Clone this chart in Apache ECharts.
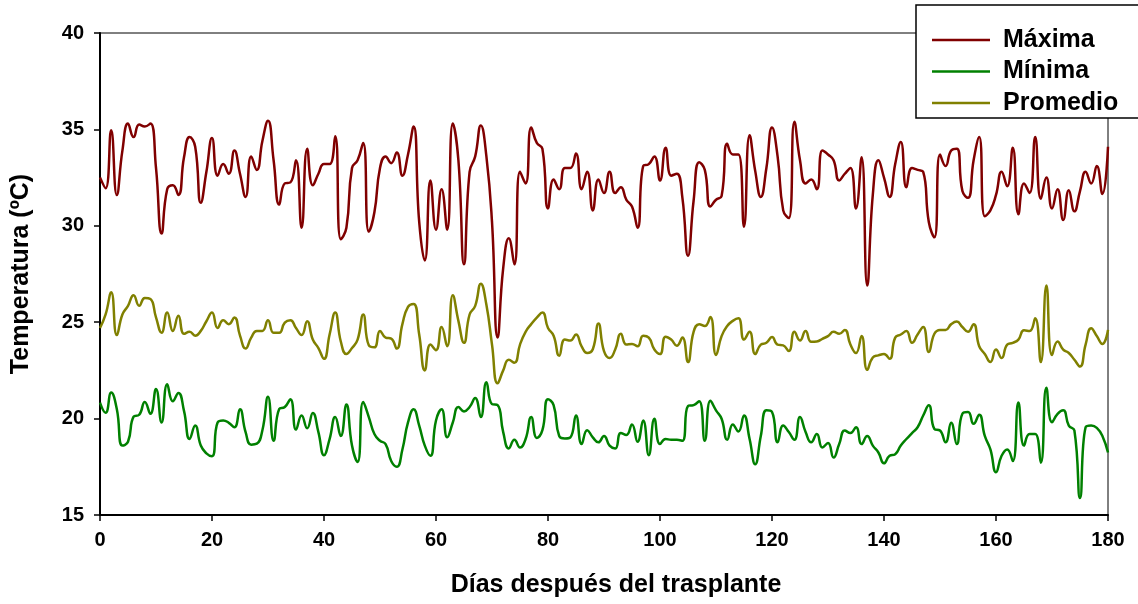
<!DOCTYPE html>
<html>
<head>
<meta charset="utf-8">
<script src="https://cdn.jsdelivr.net/npm/echarts@6/dist/echarts.min.js"></script>
<style>
html,body{margin:0;padding:0;background:#fff;}
#chart{width:1138px;height:604px;}
</style>
</head>
<body>
<div id="chart"></div>
<script>
// Days after transplant (0..180)
const days = Array.from({length: 181}, (_, i) => i);

const maxima = [
32.5,31.95,34.95,31.6,33.9,35.3,34.6,35.25,35.15,35.3,33.0,29.6,31.9,32.1,31.6,33.55,34.6,34.1,31.2,32.8,34.55,32.6,33.2,32.7,33.9,32.7,31.5,33.6,32.9,34.4,
35.45,33.4,31.1,32.2,32.25,33.4,29.9,34.0,32.1,32.7,33.2,33.2,34.65,29.3,29.9,33.0,33.4,34.3,29.7,30.7,33.0,33.6,33.25,33.8,32.6,33.7,35.15,30.2,28.2,32.35,
29.8,31.9,29.8,35.3,33.4,28.0,32.8,33.6,35.2,33.6,30.2,24.2,27.8,29.35,28.0,32.8,32.2,35.1,34.3,34.0,30.9,32.4,31.9,33.0,33.0,33.75,31.9,32.8,30.8,32.4,
31.7,32.8,31.7,32.0,31.35,31.0,29.9,33.1,33.2,33.6,32.35,34.05,32.6,32.7,31.45,28.45,31.3,33.3,32.9,31.0,31.35,31.55,34.25,33.7,33.7,29.95,34.7,32.85,31.5,33.0,
35.1,33.6,30.8,30.4,35.4,33.4,32.2,32.4,31.9,33.9,33.7,33.4,32.35,32.7,33.0,30.9,33.55,26.9,31.6,33.4,32.5,31.5,33.2,34.35,32.0,33.0,32.9,32.8,30.2,29.4,
33.7,33.1,33.9,34.0,31.8,31.45,33.4,34.6,30.5,30.8,31.6,32.8,32.05,34.05,30.6,32.2,31.7,34.6,31.4,32.5,30.9,31.9,30.3,31.85,30.75,31.8,32.8,32.2,33.1,31.65,
34.1
];

const minima = [
20.83,20.3,21.35,20.5,18.6,18.8,20.1,20.2,20.86,20.25,21.53,19.8,21.78,20.9,21.33,20.4,18.94,19.64,18.6,18.2,18.05,19.8,19.9,19.78,19.55,20.48,19.3,18.65,18.7,19.4,
21.13,18.85,20.5,20.6,21.0,19.43,20.16,19.5,20.29,19.3,18.1,18.94,20.08,19.1,20.73,18.6,17.75,20.86,20.08,19.2,18.85,18.68,17.8,17.5,18.4,19.8,20.48,19.64,18.6,18.07,
19.9,20.48,19.03,19.8,20.6,20.37,20.6,21.07,20.08,21.88,20.75,20.7,19.3,18.45,18.9,18.5,18.94,20.08,19.0,19.4,21.0,20.7,19.1,18.97,19.03,20.16,18.68,19.4,19.03,18.77,
19.1,18.6,18.45,19.25,19.15,19.7,18.8,19.9,18.1,19.99,18.68,18.94,18.9,18.9,18.85,20.65,20.7,20.9,18.85,20.92,20.43,19.99,18.9,19.7,19.33,20.16,18.94,17.63,19.1,20.43,
20.34,18.77,19.64,19.3,18.9,20.08,19.3,18.77,19.2,18.5,18.73,17.98,18.68,19.38,19.25,19.55,18.68,19.1,18.6,18.24,17.68,18.07,18.15,18.6,18.94,19.25,19.55,20.16,20.69,19.46,
19.38,18.77,19.78,18.68,20.25,20.34,19.73,20.2,19.1,18.4,17.22,18.07,18.4,17.8,20.83,18.6,19.2,19.2,17.71,21.6,19.81,20.25,20.43,19.64,19.38,15.88,19.55,19.64,19.52,19.1,
18.24
];

const promedio = [
24.7,25.4,26.55,24.33,25.4,25.85,26.4,25.85,26.25,26.2,25.25,24.45,25.5,24.55,25.33,24.4,24.5,24.3,24.55,25.05,25.5,24.7,25.1,24.9,25.25,24.3,23.63,24.2,24.55,24.55,
25.1,24.45,24.45,24.98,25.1,24.7,24.33,25.05,24.1,23.66,23.1,24.36,25.5,24.0,23.35,23.66,24.1,25.4,23.8,23.7,24.55,24.2,24.15,23.63,24.9,25.8,25.95,24.36,22.5,23.84,
23.55,24.75,23.75,26.4,25.07,23.93,25.4,25.85,27.0,25.9,23.84,21.83,22.5,23.05,22.9,23.84,24.5,24.9,25.24,25.5,24.7,24.3,23.26,24.1,24.05,24.36,23.75,23.4,23.6,24.93,
23.5,23.14,23.58,24.4,23.84,23.87,23.75,24.3,24.2,23.58,23.35,24.25,24.1,23.78,24.2,22.93,24.5,24.9,24.8,25.27,23.3,24.28,24.8,25.07,25.2,24.1,24.5,23.35,23.84,23.93,
24.23,23.84,23.8,23.5,24.5,24.05,24.54,23.98,24.0,24.14,24.28,24.5,24.4,24.6,23.84,23.4,24.28,22.53,23.17,23.28,23.35,23.1,24.2,24.36,24.54,23.93,24.36,24.75,23.45,24.4,
24.6,24.6,24.9,25.03,24.75,24.5,24.9,23.75,23.35,22.93,23.58,23.14,23.84,23.93,24.1,24.58,24.54,25.2,22.93,26.9,23.3,24.0,23.58,23.4,23.05,22.7,23.84,24.68,24.28,23.87,
24.6
];

const seriesNames = ['Máxima', 'Mínima', 'Promedio'];
const seriesColors = ['#800000', '#008000', '#808000'];
const seriesData = [maxima, minima, promedio];

const yTicks = [15, 20, 25, 30, 35, 40];
const xTicks = [0, 20, 40, 60, 80, 100, 120, 140, 160, 180];

const FONT = '"Liberation Sans", Arial, sans-serif';

const chart = echarts.init(document.getElementById('chart'), null, {renderer: 'canvas'});

chart.setOption({
  animation: false,
  backgroundColor: '#fff',
  grid: {
    left: 100, right: 30, top: 33, bottom: 89,
    containLabel: false, outerBoundsMode: 'none',
    show: true, borderColor: '#000', borderWidth: 1, backgroundColor: 'transparent'
  },
  legend: {
    orient: 'vertical',
    left: 916, top: 5,
    padding: [21, 22, 1, 16],
    icon: 'rect',
    itemWidth: 58, itemHeight: 2.5, itemGap: 3.5,
    backgroundColor: '#fff',
    borderColor: '#000', borderWidth: 1.5,
    textStyle: {fontFamily: FONT, fontSize: 25, fontWeight: 'bold', color: '#000', padding: [0, 0, 0, 8], lineHeight: 28},
    data: seriesNames
  },
  xAxis: {
    type: 'value',
    min: xTicks[0], max: xTicks[xTicks.length - 1], interval: 20,
    name: 'Días después del trasplante',
    nameLocation: 'middle', nameGap: 58,
    nameTextStyle: {fontFamily: FONT, fontSize: 25, fontWeight: 'bold', color: '#000', padding: [0, 0, 0, 24]},
    axisLine: {show: true, lineStyle: {color: '#000', width: 2}},
    axisTick: {show: true, length: 6, lineStyle: {color: '#000', width: 1.5}},
    axisLabel: {fontFamily: FONT, fontSize: 20, fontWeight: 'bold', color: '#000', margin: 15},
    splitLine: {show: false}
  },
  yAxis: {
    type: 'value',
    min: yTicks[0], max: yTicks[yTicks.length - 1], interval: 5,
    name: 'Temperatura (ºC)',
    nameLocation: 'middle', nameGap: 66,
    nameTextStyle: {fontFamily: FONT, fontSize: 25, fontWeight: 'bold', color: '#000'},
    axisLine: {show: true, lineStyle: {color: '#000', width: 2}},
    axisTick: {show: true, length: 6, lineStyle: {color: '#000', width: 1.5}},
    axisLabel: {fontFamily: FONT, fontSize: 20, fontWeight: 'bold', color: '#000', margin: 16},
    splitLine: {show: false}
  },
  series: seriesNames.map((name, k) => ({
    name: name,
    type: 'line',
    data: days.map((d, i) => [d, seriesData[k][i]]),
    smooth: 0.5,
    showSymbol: false,
    symbol: 'none',
    lineStyle: {color: seriesColors[k], width: 2.5},
    itemStyle: {color: seriesColors[k]},
    z: 3 - k
  }))
});
</script>
</body>
</html>
